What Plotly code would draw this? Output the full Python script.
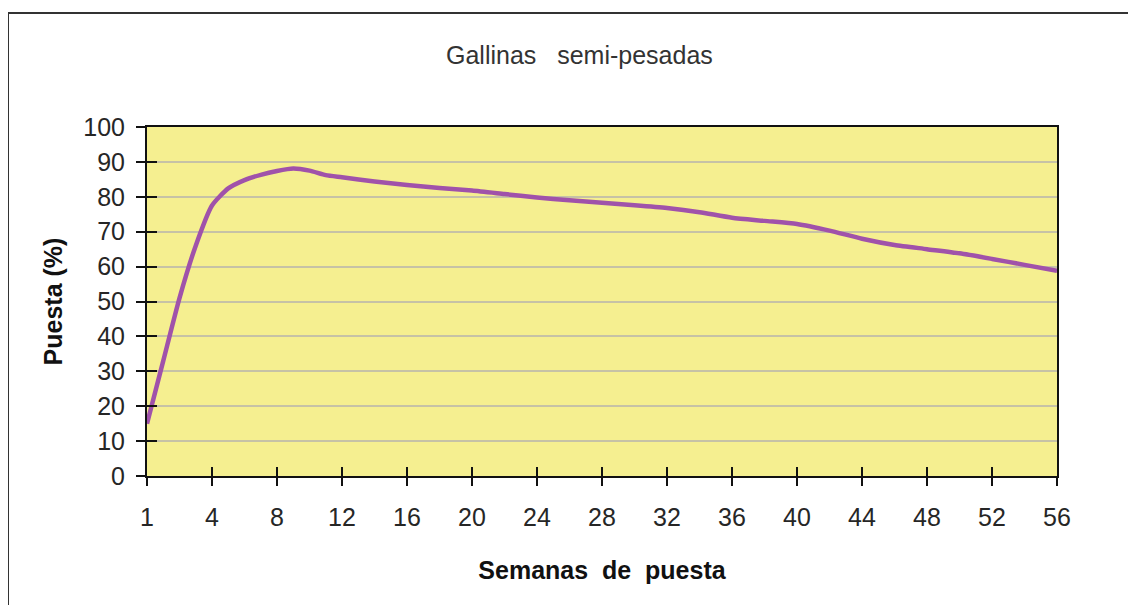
import plotly.graph_objects as go

# Semana (posición en el eje) y puesta (%)
week_pos = [0, 1, 2, 3, 4, 5, 6, 7, 8, 9, 10, 11, 12, 14, 16, 18, 20, 22, 24, 26, 28,
            30, 32, 34, 36, 38, 40, 42, 44, 46, 48, 50, 52, 54, 56]
puesta = [15, 33, 51, 66, 77.5, 82.4, 84.8, 86.3, 87.4, 88.1, 87.5, 86.2, 85.6, 84.4,
          83.4, 82.5, 81.8, 80.8, 79.8, 79.0, 78.3, 77.6, 76.8, 75.6, 74.0, 73.1, 72.2,
          70.3, 68.0, 66.2, 65.0, 63.8, 62.2, 60.5, 58.8]

x_tickvals = [0, 4, 8, 12, 16, 20, 24, 28, 32, 36, 40, 44, 48, 52, 56]
x_ticktext = ["1", "4", "8", "12", "16", "20", "24", "28", "32", "36", "40", "44", "48", "52", "56"]
y_tickvals = [0, 10, 20, 30, 40, 50, 60, 70, 80, 90, 100]

title_text = "Gallinas\u00a0\u00a0 semi-pesadas"
x_title = "Semanas\u00a0 de\u00a0 puesta"
y_title = "Puesta (%)"

FONT = "Liberation Sans, Arial, sans-serif"
PAGE_OFF = 8  # default body margin of the html page
W, H = 1136 - PAGE_OFF, 605 - PAGE_OFF
# plot area in screen (target) pixel coordinates
L, R, T, B = 147, 1057, 127, 476

fig = go.Figure()
fig.add_trace(go.Scatter(
    x=week_pos, y=puesta, mode="lines",
    line=dict(color="#a052aa", width=4.5, shape="spline", smoothing=0.6),
    hoverinfo="x+y", showlegend=False,
))
# helper (invisible) trace so overlay axes (inner tick halves) are drawn
fig.add_trace(go.Scatter(x=week_pos[:1], y=puesta[:1], xaxis="x2", yaxis="y2",
                         mode="markers", marker=dict(size=0, opacity=0),
                         hoverinfo="skip", showlegend=False))

def px_x(p):
    return (p - L) / (R - L)

def px_y(p):
    return (B - p) / (B - T)

fig.update_layout(
    width=W, height=H,
    margin=dict(l=L - PAGE_OFF, r=W - (R - PAGE_OFF), t=T - PAGE_OFF, b=H - (B - PAGE_OFF)),
    paper_bgcolor="white",
    plot_bgcolor="#f5ef90",
    font=dict(family=FONT, color="#222222"),
    xaxis=dict(
        range=[0, 56], tickmode="array", tickvals=x_tickvals, ticktext=x_ticktext,
        ticks="outside", ticklen=8, tickwidth=2, tickcolor="#111111",
        showline=True, linecolor="#111111", linewidth=2, mirror=True,
        showgrid=False, zeroline=False,
        tickfont=dict(size=25, family=FONT, color="#262626"),
        ticklabelstandoff=10,
        title=dict(text="<b>" + x_title + "</b>", font=dict(size=25, family=FONT, color="#111111"),
                   standoff=31),
    ),
    yaxis=dict(
        range=[0, 100], tickmode="array", tickvals=y_tickvals,
        ticks="outside", ticklen=9, tickwidth=2, tickcolor="#111111",
        showline=True, linecolor="#111111", linewidth=2, mirror=True,
        showgrid=True, gridcolor="#c6c2a6", gridwidth=2, zeroline=False,
        tickfont=dict(size=25, family=FONT, color="#262626"),
        ticklabelstandoff=6,
        title=dict(text="<b>" + y_title + "</b>", font=dict(size=25, family=FONT, color="#111111"),
                   standoff=14),
    ),
    xaxis2=dict(
        overlaying="x", anchor="y2", range=[0, 56], tickmode="array", tickvals=x_tickvals,
        ticks="inside", ticklen=9, tickwidth=2, tickcolor="#111111",
        showticklabels=False, showline=False, showgrid=False, zeroline=False,
    ),
    yaxis2=dict(
        overlaying="y", anchor="x2", side="left", range=[0, 100], tickmode="array",
        tickvals=y_tickvals, ticks="inside", ticklen=10, tickwidth=2, tickcolor="#111111",
        showticklabels=False, showline=False, showgrid=False, zeroline=False,
    ),
    annotations=[dict(
        text=title_text, xref="paper", yref="paper", x=px_x(579.5), y=px_y(55),
        xanchor="center", yanchor="middle", showarrow=False,
        font=dict(size=25, family=FONT, color="#333333"),
    )],
    shapes=[dict(
        type="rect", xref="paper", yref="paper",
        x0=px_x(8), x1=px_x(1160), y0=px_y(640), y1=px_y(13),
        line=dict(color="#333333", width=2), fillcolor="rgba(0,0,0,0)", layer="below",
    )],
)

fig.write_html("out.html")
